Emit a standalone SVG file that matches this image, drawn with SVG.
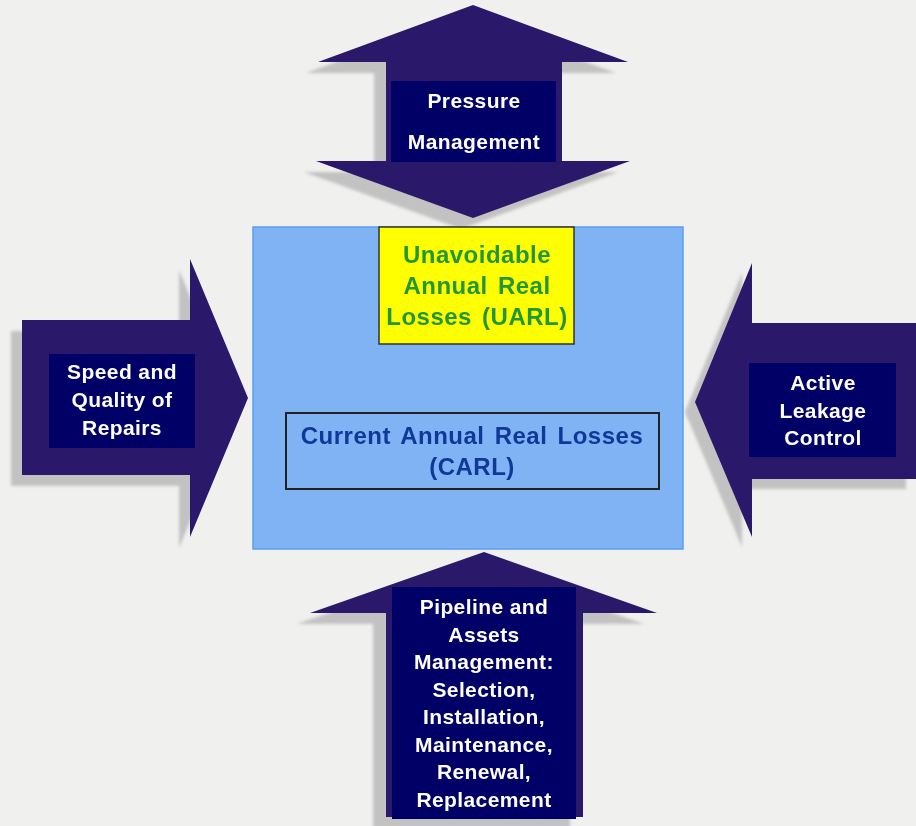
<svg xmlns="http://www.w3.org/2000/svg" xmlns:xlink="http://www.w3.org/1999/xlink" width="916" height="826" viewBox="0 0 916 826">
<defs>
<style>
.arrow{fill:#2a186a}
.shadow{fill:#c2c2c2}
.inner{fill:#000066}
.wt{font-family:"Liberation Sans",Arial,sans-serif;font-weight:bold;font-size:21px;fill:#ffffff;text-anchor:middle;letter-spacing:0.4px}
.ct{font-family:"Liberation Sans",Arial,sans-serif;font-weight:bold;font-size:24px;text-anchor:middle;letter-spacing:0.5px;word-spacing:3px}
</style>
<filter id="blur" x="-10%" y="-10%" width="120%" height="120%"><feGaussianBlur stdDeviation="1.5"/></filter>
<polygon id="pTop" points="473,5 628,62 562,62 562,161 630,161 473,218 316,161 386,161 386,62 318,62"/>
<polygon id="pLeft" points="22,320 190,320 190,259 248,398 190,537 190,475 22,475"/>
<polygon id="pRight" points="916,323 752,323 752,263 695,402 752,537 752,479 916,479"/>
<polygon id="pBottom" points="484,552 657,613 583,613 583,817 386,817 386,613 310,613"/>
</defs>
<rect x="0" y="0" width="916" height="826" fill="#f0f0ef"/>

<g id="shadows" class="shadow" filter="url(#blur)">
<use xlink:href="#pTop" transform="translate(-12,11)"/>
<use xlink:href="#pLeft" transform="translate(-11,11)"/>
<use xlink:href="#pRight" transform="translate(-10,10)"/>
<use xlink:href="#pBottom" transform="translate(-13,11)"/>
</g>

<g id="center">
<rect x="253" y="227" width="430" height="322" fill="#80b3f3" stroke="#5c9cf0" stroke-width="1.5"/>
</g>

<g id="uarl">
<rect x="379" y="227" width="195" height="117" fill="#ffff00" stroke="#333333" stroke-width="1.5"/>
<text class="ct" fill="#22973a" x="477" y="263">Unavoidable</text>
<text class="ct" fill="#22973a" x="477" y="294">Annual Real</text>
<text class="ct" fill="#22973a" x="477" y="325">Losses (UARL)</text>
</g>

<g id="carl">
<rect x="286" y="413" width="373" height="76" fill="none" stroke="#222222" stroke-width="2"/>
<text class="ct" fill="#10389a" x="472" y="444">Current Annual Real Losses</text>
<text class="ct" fill="#10389a" x="472" y="475">(CARL)</text>
</g>

<g id="pressure">
<use xlink:href="#pTop" class="arrow"/>
<rect class="inner" x="391" y="81" width="165" height="81"/>
<text class="wt" x="474" y="108">Pressure</text>
<text class="wt" x="474" y="149">Management</text>
</g>

<g id="repairs">
<use xlink:href="#pLeft" class="arrow"/>
<rect class="inner" x="49" y="354" width="146" height="94"/>
<text class="wt" x="122" y="379">Speed and</text>
<text class="wt" x="122" y="407">Quality of</text>
<text class="wt" x="122" y="435">Repairs</text>
</g>

<g id="alc">
<use xlink:href="#pRight" class="arrow"/>
<rect class="inner" x="749" y="363" width="147" height="94"/>
<text class="wt" x="823" y="390">Active</text>
<text class="wt" x="823" y="418">Leakage</text>
<text class="wt" x="823" y="445">Control</text>
</g>

<g id="pipeline">
<use xlink:href="#pBottom" class="arrow"/>
<rect class="inner" x="392" y="587" width="184" height="232"/>
<text class="wt" x="484" y="614">Pipeline and</text>
<text class="wt" x="484" y="642">Assets</text>
<text class="wt" x="484" y="669">Management:</text>
<text class="wt" x="484" y="697">Selection,</text>
<text class="wt" x="484" y="724">Installation,</text>
<text class="wt" x="484" y="752">Maintenance,</text>
<text class="wt" x="484" y="779">Renewal,</text>
<text class="wt" x="484" y="807">Replacement</text>
</g>

<g id="connectors"></g>
</svg>
